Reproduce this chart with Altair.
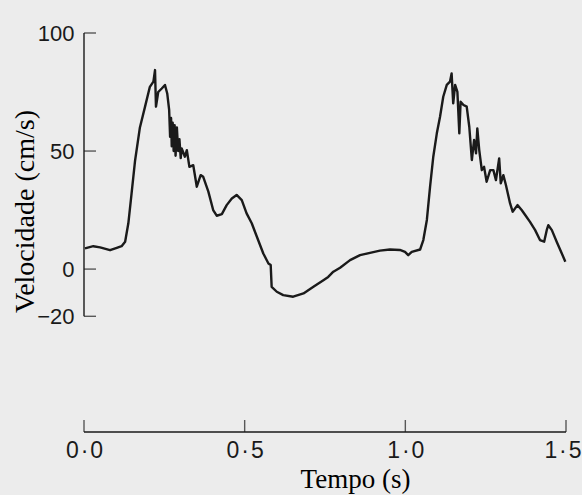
import altair as alt
import pandas as pd

# Trace: time (s) and velocity (cm/s)
t = [0.003, 0.029, 0.050, 0.081, 0.102, 0.117, 0.128, 0.138, 0.148, 0.159,
     0.174, 0.190, 0.205, 0.216, 0.221, 0.224, 0.231, 0.242, 0.252, 0.259,
     0.265, 0.268, 0.271, 0.273, 0.276, 0.279, 0.282, 0.285, 0.289, 0.293,
     0.297, 0.301, 0.304, 0.314, 0.320, 0.328,
     0.340, 0.351, 0.363, 0.371, 0.387, 0.402, 0.413, 0.429, 0.444, 0.460,
     0.475, 0.491, 0.506, 0.522, 0.538, 0.558, 0.574, 0.581, 0.584, 0.600,
     0.620, 0.651, 0.683, 0.714, 0.745, 0.760, 0.776, 0.797, 0.828, 0.859,
     0.890, 0.921, 0.952, 0.983, 0.999, 1.009, 1.020, 1.046, 1.056, 1.067,
     1.077, 1.087, 1.098, 1.108, 1.118, 1.129, 1.139, 1.144, 1.149, 1.155,
     1.162, 1.168, 1.172, 1.181, 1.191, 1.199, 1.207, 1.214, 1.220, 1.224,
     1.230, 1.238, 1.245, 1.253, 1.264, 1.274, 1.282, 1.292, 1.297, 1.305,
     1.313, 1.326, 1.334, 1.349, 1.362, 1.373, 1.388, 1.404, 1.419, 1.432,
     1.440, 1.445, 1.456, 1.471, 1.487, 1.498]
v = [8.8, 9.7, 9.2, 8.0, 9.0, 9.7, 11.6, 19.4, 32.0, 46.0,
     60.0, 68.8, 77.2, 79.4, 84.3, 68.8, 75.0, 76.5, 78.0, 74.4,
     67.4, 56.0, 64.0, 52.0, 62.0, 50.0, 61.0, 48.0, 60.0, 50.0,
     55.0, 47.0, 51.1, 47.6, 50.4, 43.3,
     44.0, 34.9, 39.8, 39.1, 32.8, 25.0, 22.6, 23.3, 27.1, 29.9,
     31.4, 29.2, 23.6, 19.4, 13.7, 6.6, 2.4, 1.7, -7.5, -9.6,
     -11.0, -11.7, -10.3, -7.5, -4.7, -3.3, -1.1, 0.6, 3.8, 5.9,
     6.9, 7.8, 8.3, 8.1, 7.3, 5.9, 7.3, 8.3, 12.3, 20.8,
     34.9, 47.6, 57.5, 64.5, 73.0, 78.0, 79.4, 82.9, 70.2, 78.0,
     75.1, 57.5, 70.9, 69.5, 68.8, 60.3, 46.2, 54.7, 49.0, 59.6,
     50.4, 41.9, 43.3, 37.0, 41.9, 41.9, 37.7, 46.9, 36.3, 39.8,
     35.6, 27.8, 24.3, 27.1, 25.0, 22.9, 20.0, 16.5, 12.3, 11.6,
     16.5, 18.6, 16.5, 11.6, 6.6, 3.1]

x_ticks = [0.0, 0.5, 1.0, 1.5]
y_ticks = [-20, 0, 50, 100]
x_domain = [0, 1.5]
y_domain = [-69, 100]
x_title = "Tempo (s)"
y_title = "Velocidade (cm/s)"

trace = pd.DataFrame({"t": t, "v": v})
xt = pd.DataFrame({"t": x_ticks, "v": [y_domain[0]] * len(x_ticks)})
yt = pd.DataFrame({"t": [0.0] * len(y_ticks), "v": y_ticks})
yline = pd.DataFrame({"t": [0.0], "v": [min(y_ticks)], "hi": [max(y_ticks)]})
xline = pd.DataFrame({"t": [min(x_ticks)], "hi": [max(x_ticks)], "v": [y_domain[0]]})

xs = alt.Scale(domain=x_domain, nice=False, zero=False)
ys = alt.Scale(domain=y_domain, nice=False, zero=False)
INK = "#1a1a1a"
last_test = "datum.value >= %s" % max(x_ticks)

x_axis = alt.Axis(
    values=x_ticks, domain=False, ticks=False, grid=False,
    labelExpr="replace(format(datum.value, '.1f'), '.', '\u200a·\u200a')",
    labelFont="Liberation Sans", labelFontSize=23, labelColor=INK,
    labelPadding=7, labelFlush=False, labelOverlap=False,
    labelAlign={"condition": {"test": last_test, "value": "right"}, "value": "center"},
    labelOffset={"condition": {"test": last_test, "value": 15}, "value": 0},
    titleFont="Liberation Serif", titleFontSize=27,
    titleFontWeight="normal", titleColor="#000000",
    titleX=271, titleY=55, titleBaseline="alphabetic", titleAlign="center")
y_axis = alt.Axis(
    values=y_ticks, domain=False, ticks=False, grid=False,
    labelFont="Liberation Sans", labelFontSize=22, labelColor=INK,
    labelPadding=10, labelFlush=False, labelOverlap=False,
    titleFont="Liberation Serif", titleFontSize=28,
    titleFontWeight="normal", titleColor="#000000", titleAngle=270,
    titleX=-51, titleY=178, titleBaseline="alphabetic", titleAlign="center")

X = alt.X("t:Q", scale=xs, axis=x_axis, title=x_title)
Y = alt.Y("v:Q", scale=ys, axis=y_axis, title=y_title)

line = alt.Chart(trace).mark_line(color=INK, strokeWidth=2.4, strokeJoin="round").encode(
    x=X, y=Y, order="t:Q")

y_axis_line = alt.Chart(yline).mark_rule(color=INK, strokeWidth=1.4).encode(
    x=X, y=Y, y2="hi:Q")
x_axis_line = alt.Chart(xline).mark_rule(color=INK, strokeWidth=1.4).encode(
    x=X, x2="hi:Q", y=Y)
y_tick_marks = alt.Chart(yt).mark_tick(color=INK, orient="horizontal", size=12,
                                       thickness=1.4, xOffset=6).encode(x=X, y=Y)
x_tick_marks = alt.Chart(xt).mark_tick(color=INK, orient="vertical", size=12,
                                       thickness=1.4, yOffset=-6).encode(x=X, y=Y)

chart = alt.layer(line, y_axis_line, x_axis_line, y_tick_marks, x_tick_marks).properties(
    width=482, height=399,
    autosize=alt.AutoSizeParams(type="none"),
    padding={"left": 84, "top": 33, "right": 16, "bottom": 63},
    background="#ececec",
).configure_view(stroke=None)

chart.save("out.html", embed_options={"renderer": "svg", "actions": False})
